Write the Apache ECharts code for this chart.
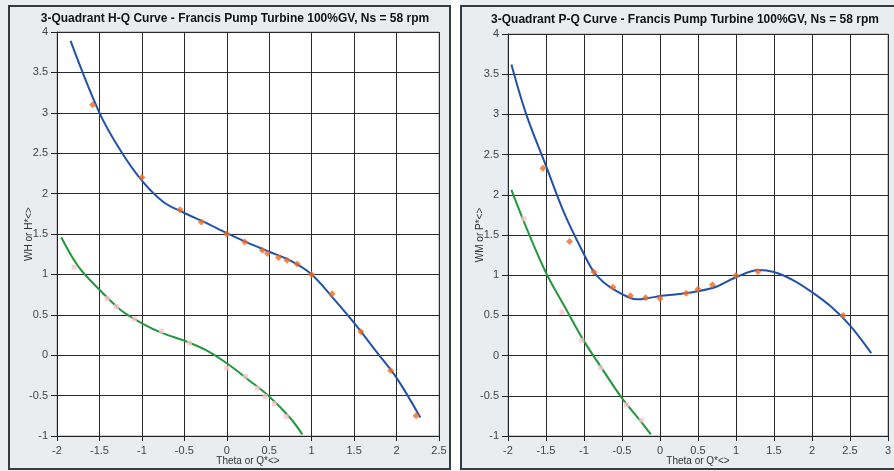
<!DOCTYPE html>
<html>
<head>
<meta charset="utf-8">
<script src="https://cdn.jsdelivr.net/npm/echarts@6/dist/echarts.min.js"></script>
<style>
html,body{margin:0;padding:0;background:#ffffff;}
#c{width:894px;height:471px;}
</style>
</head>
<body>
<div id="c"></div>
<script>
// ---------- Data: H-Q chart (left) ----------
var hqTitle = "3-Quadrant H-Q Curve - Francis Pump Turbine 100%GV, Ns = 58 rpm";
var hqYName = "WH or H*<>";
var hqXName = "Theta or Q*<>";
var hqXTicks = [-2, 2.5];
var hqYTicks = [-1, 4];
// fitted curve (blue)
var hqBlueCurve = [[-1.84,3.89],[-1.5,3.0],[-1.25,2.53],[-1.0,2.16],[-0.75,1.9],[-0.5,1.76],[-0.25,1.64],[0,1.51],[0.25,1.39],[0.5,1.28],[0.75,1.17],[1.0,1.0],[1.25,0.71],[1.5,0.40],[1.75,0.06],[2.0,-0.28],[2.28,-0.77]];
// measured points (orange)
var hqBluePts = [[-1.58,3.1],[-1.0,2.2],[-0.55,1.8],[-0.3,1.65],[0,1.5],[0.21,1.4],[0.42,1.3],[0.48,1.26],[0.61,1.21],[0.71,1.175],[0.83,1.13],[1.0,1.0],[1.24,0.76],[1.58,0.29],[1.93,-0.19],[2.23,-0.75]];
// fitted curve (green)
var hqGreenCurve = [[-1.95,1.46],[-1.75,1.1],[-1.5,0.81],[-1.25,0.56],[-1.0,0.395],[-0.75,0.27],[-0.5,0.18],[-0.25,0.065],[0,-0.1],[0.25,-0.3],[0.5,-0.51],[0.75,-0.78],[0.89,-0.98]];
// measured points (pink)
var hqGreenPts = [[-1.8,1.09],[-1.41,0.7],[-1.3,0.6],[-1.09,0.45],[-0.77,0.3],[-0.44,0.15],[0,-0.16],[0.22,-0.26],[0.36,-0.41],[0.45,-0.51],[0.56,-0.6],[0.7,-0.76],[0.89,-1.01]];

// ---------- Data: P-Q chart (right) ----------
var pqTitle = "3-Quadrant P-Q Curve - Francis Pump Turbine 100%GV, Ns = 58 rpm";
var pqYName = "WM or P*<>";
var pqXName = "Theta or Q*<>";
var pqXTicks = [-2, 3];
var pqYTicks = [-1, 4];
var pqBlueCurve = [[-1.955,3.62],[-1.76,3.0],[-1.5,2.36],[-1.25,1.75],[-1.0,1.26],[-0.87,1.04],[-0.75,0.92],[-0.62,0.83],[-0.5,0.765],[-0.4,0.72],[-0.3,0.70],[-0.15,0.715],[0,0.74],[0.25,0.765],[0.5,0.8],[0.75,0.86],[1.0,0.975],[1.3,1.065],[1.5,1.04],[1.75,0.94],[2.0,0.79],[2.25,0.61],[2.5,0.375],[2.78,0.03]];
var pqBluePts = [[-1.54,2.33],[-1.19,1.42],[-0.87,1.04],[-0.62,0.85],[-0.39,0.745],[-0.19,0.72],[0,0.71],[0.345,0.775],[0.5,0.825],[0.69,0.88],[1.0,0.995],[1.29,1.045],[2.41,0.5]];
var pqGreenCurve = [[-1.955,2.06],[-1.75,1.57],[-1.5,1.03],[-1.25,0.6],[-1.0,0.18],[-0.75,-0.18],[-0.5,-0.53],[-0.25,-0.82],[-0.12,-0.98]];
var pqGreenPts = [[-1.79,1.7],[-1.29,0.54],[-1.03,0.19],[-0.78,-0.15],[-0.44,-0.61],[-0.245,-0.8]];

var BLUE = '#2152a6', GREEN = '#22973c', ORANGE = '#f26a1f', PINK = '#f9c6cc';
var FONT = 'Liberation Sans, Arial, sans-serif';

function xAxis(gi, ticks, name) {
  return {
    type: 'value', gridIndex: gi, min: ticks[0], max: ticks[1], interval: 0.5,
    name: name, nameLocation: 'middle', nameGap: 20, nameMoveOverlap: false,
    nameTextStyle: {fontFamily: FONT, fontSize: 10, color: '#333'},
    axisLine: {onZero: false, lineStyle: {color: '#222', width: 1}},
    axisTick: {show: true, length: 5, lineStyle: {color: '#222'}},
    axisLabel: {fontFamily: FONT, fontSize: 11, color: '#444', margin: 9},
    splitLine: {show: true, lineStyle: {color: '#2a2a2a', width: 1}}
  };
}
function yAxis(gi, ticks, name) {
  return {
    type: 'value', gridIndex: gi, min: ticks[0], max: ticks[1], interval: 0.5,
    name: name, nameLocation: 'middle', nameGap: 23, nameRotate: 90, nameMoveOverlap: false,
    nameTextStyle: {fontFamily: FONT, fontSize: 10, color: '#333'},
    axisLine: {onZero: false, lineStyle: {color: '#222', width: 1}},
    axisTick: {show: true, length: 6, lineStyle: {color: '#222'}},
    axisLabel: {fontFamily: FONT, fontSize: 11, color: '#444', margin: 9},
    splitLine: {show: true, lineStyle: {color: '#2a2a2a', width: 1}}
  };
}
function curve(idx, data, color) {
  return {type: 'line', xAxisIndex: idx, yAxisIndex: idx, data: data, smooth: 0.35,
    showSymbol: false, symbol: 'none', lineStyle: {color: color, width: 2}, z: 3};
}
function pts(idx, data, color, sym, size) {
  return {type: 'scatter', xAxisIndex: idx, yAxisIndex: idx, data: data,
    symbol: sym, symbolSize: size, itemStyle: {color: color}, z: 4};
}

var chart = echarts.init(document.getElementById('c'), null, {renderer: 'canvas'});
chart.setOption({
  animation: false,
  backgroundColor: '#eceff1',
  graphic: [
    {type: 'rect', shape: {x: 451, y: 0, width: 9, height: 471}, style: {fill: '#ffffff'}, z: -10},
    {type: 'rect', shape: {x: 9, y: 6, width: 441, height: 463}, style: {fill: '#e9edf0', stroke: '#3a3a3a', lineWidth: 2}, z: -9},
    {type: 'rect', shape: {x: 461, y: 6, width: 440, height: 463}, style: {fill: '#e9edf0', stroke: '#3a3a3a', lineWidth: 2}, z: -9}
  ],
  title: [
    {text: hqTitle, left: 230, top: 8, textAlign: 'center',
      textStyle: {fontFamily: FONT, fontSize: 12, fontWeight: 'bold', color: '#111'}},
    {text: pqTitle, left: 680, top: 9, textAlign: 'center',
      textStyle: {fontFamily: FONT, fontSize: 12, fontWeight: 'bold', color: '#111'}}
  ],
  grid: [
    {left: 57, top: 32, width: 382, height: 404, show: true, backgroundColor: '#ffffff', borderColor: '#9a9a9a', borderWidth: 1},
    {left: 508, top: 34, width: 382, height: 404, show: true, backgroundColor: '#ffffff', borderColor: '#9a9a9a', borderWidth: 1}
  ],
  xAxis: [xAxis(0, hqXTicks, hqXName), xAxis(1, pqXTicks, pqXName)],
  yAxis: [yAxis(0, hqYTicks, hqYName), yAxis(1, pqYTicks, pqYName)],
  series: [
    curve(0, hqBlueCurve, BLUE),
    curve(0, hqGreenCurve, GREEN),
    pts(0, hqBluePts, ORANGE, 'diamond', 7),
    pts(0, hqGreenPts, PINK, 'rect', 5),
    curve(1, pqBlueCurve, BLUE),
    curve(1, pqGreenCurve, GREEN),
    pts(1, pqBluePts, ORANGE, 'diamond', 7),
    pts(1, pqGreenPts, PINK, 'rect', 5)
  ]
});
</script>
</body>
</html>
